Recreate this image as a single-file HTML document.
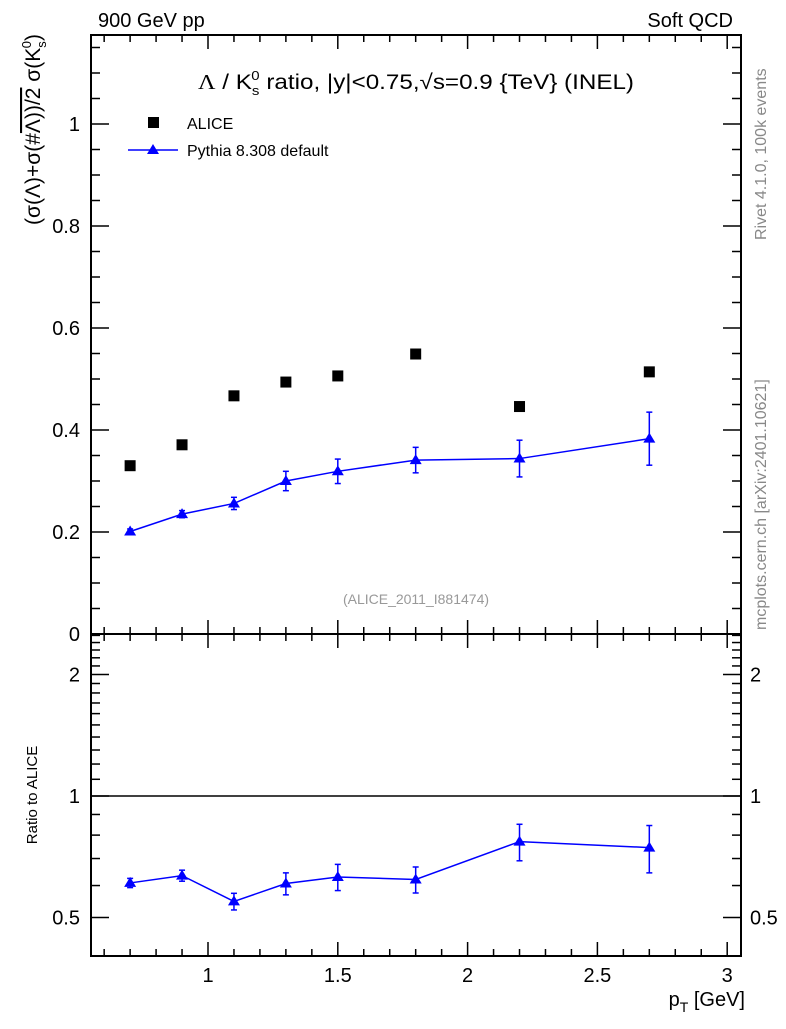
<!DOCTYPE html>
<html><head><meta charset="utf-8"><style>
body{margin:0;background:#fff}
svg text{font-family:"Liberation Sans",sans-serif}
</style></head><body>
<svg id="c" width="786" height="1024" xmlns="http://www.w3.org/2000/svg">
<g id="g"></g>
<text x="98" y="27" font-size="20">900 GeV pp</text>
<text x="733" y="27" font-size="20" text-anchor="end">Soft QCD</text>
<text x="416" y="89" font-size="21" text-anchor="middle" textLength="436" lengthAdjust="spacingAndGlyphs"><tspan font-family="Liberation Serif">Λ</tspan> / K<tspan font-size="13" dy="6">s</tspan><tspan font-size="13" dy="-15" dx="-7">0</tspan><tspan dy="9"> ratio, |y|&lt;0.75,√s=0.9 {TeV} (INEL)</tspan></text>
<text x="416" y="604" font-size="14" fill="#999" text-anchor="middle">(ALICE_2011_I881474)</text>
<text transform="translate(766,240) rotate(-90)" font-size="16" fill="#888">Rivet 4.1.0,  100k events</text>
<text transform="translate(766,630) rotate(-90)" font-size="16" fill="#888">mcplots.cern.ch [arXiv:2401.10621]</text>
<text transform="translate(40,34) rotate(-90)" font-size="21" text-anchor="end">(σ(Λ)+σ(#<tspan text-decoration="overline">Λ))/2</tspan> σ(K<tspan font-size="13" dy="6">s</tspan><tspan font-size="13" dy="-15" dx="-7">0</tspan><tspan dy="9">)</tspan></text>
<text transform="translate(37,795) rotate(-90)" font-size="15" text-anchor="middle">Ratio to ALICE</text>
<text x="745" y="1006" font-size="20" text-anchor="end">p<tspan font-size="14" dy="6">T</tspan><tspan dy="-6"> [GeV]</tspan></text>
<g>
<rect x="148" y="117" width="11" height="11" fill="#000"/>
<text x="187" y="129" font-size="16">ALICE</text>
<line x1="128" y1="150" x2="178" y2="150" stroke="#00f" stroke-width="1.5"/>
<polygon points="153,144 159,154 147,154" fill="#00f"/>
<text x="187" y="156" font-size="16">Pythia 8.308 default</text>
</g>
</svg>
<script>
const xs=[0.7,0.9,1.1,1.3,1.5,1.8,2.2,2.7];
const alice=[0.330,0.371,0.467,0.494,0.506,0.549,0.446,0.514];
const pythia=[0.201,0.235,0.256,0.300,0.319,0.341,0.344,0.383];
const pythiaErr=[0.005,0.007,0.012,0.019,0.024,0.025,0.036,0.052];
const ratio=[0.609,0.635,0.548,0.607,0.630,0.621,0.771,0.745];
const ratioErr=[0.016,0.02,0.026,0.038,0.047,0.046,0.08,0.1];
const xTicks=[1,1.5,2,2.5,3];
const yTicks=[0,0.2,0.4,0.6,0.8,1];
const rTicks=[0.5,1,2];
const NS='http://www.w3.org/2000/svg';
const L=91,R=741,T=35,MB=634,RB=956;
const X=v=>208+(v-1)*259.6;
const Y=v=>MB-v*510;
const RY=v=>796-Math.log2(v)*121.5;
const g=document.getElementById('g');
function mk(t,a,n){const e=document.createElementNS(NS,t);for(const k in a)e.setAttribute(k,a[k]);


g.appendChild(e);return e;}
function ln(x1,y1,x2,y2,n,c,w){return mk('line',{x1,y1,x2,y2,stroke:c||'#000','stroke-width':w||1.5},n);}
function tx(x,y,s,n,anc){const e=mk('text',{x,y,'font-size':20,'text-anchor':anc||'middle'},n);e.textContent=s;return e;}
mk('rect',{x:L,y:T,width:R-L,height:MB-T,fill:'none',stroke:'#000','stroke-width':2},'main-frame');
mk('rect',{x:L,y:MB,width:R-L,height:RB-MB,fill:'none',stroke:'#000','stroke-width':2},'ratio-frame');
for(let i=6;i<=30;i++){const v=i/10,x=X(v);if(x<L||x>R)continue;const maj=i%5==0;const s=maj?14:7;
ln(x,MB,x,MB-s,'x-tick');ln(x,T,x,T+s,'x-tick');ln(x,RB,x,RB-s,'x-tick');ln(x,MB,x,MB+s,'x-tick');}
xTicks.forEach(v=>tx(X(v),982,String(v),'x-tick-label'));
for(let i=0;i<=23;i++){const v=i*0.05,y=Y(v);if(y<T)continue;const maj=i%4==0;const s=maj?18:9;
ln(L,y,L+s,y,'y-tick');ln(R,y,R-s,y,'y-tick');}
yTicks.forEach(v=>tx(80,Y(v)+7,String(v),'y-tick-label','end'));
const rminor=[0.4,0.5,0.6,0.7,0.8,0.9,1,1.1,1.2,1.3,1.4,1.5,1.6,1.7,1.8,1.9,2,2.1,2.2,2.3,2.4,2.5];
rminor.forEach(v=>{const y=RY(v);if(y<MB||y>RB)return;const maj=rTicks.includes(v);const s=maj?18:9;
ln(L,y,L+s,y,'ratio-y-tick');ln(R,y,R-s,y,'ratio-y-tick');});
rTicks.forEach(v=>{tx(80,RY(v)+7,String(v),'ratio-y-tick-label','end');tx(750,RY(v)+7,String(v),'ratio-y-tick-label-right','start');});
ln(L,RY(1),R,RY(1),'ratio-unity-line','#000',1.5);
xs.forEach((x,i)=>mk('rect',{x:X(x)-5.5,y:Y(alice[i])-5.5,width:11,height:11,fill:'#000'},'alice-point'));
function series(vals,errs,fy,nm){
mk('polyline',{points:xs.map((x,i)=>X(x)+','+fy(vals[i])).join(' '),fill:'none',stroke:'#00f','stroke-width':1.5},nm+'-line');
xs.forEach((x,i)=>{const cx=X(x),lo=fy(vals[i]-errs[i]),hi=fy(vals[i]+errs[i]);
ln(cx,lo,cx,hi,nm+'-errorbar','#00f',1.5);ln(cx-3,lo,cx+3,lo,nm+'-errorcap','#00f',1.5);ln(cx-3,hi,cx+3,hi,nm+'-errorcap','#00f',1.5);
const cy=fy(vals[i]);mk('polygon',{points:`${cx},${cy-6} ${cx+6},${cy+4} ${cx-6},${cy+4}`,fill:'#00f'},nm+'-point');});}
series(pythia,pythiaErr,Y,'pythia');
series(ratio,ratioErr,RY,'ratio-pythia');
</script>
</body></html>
